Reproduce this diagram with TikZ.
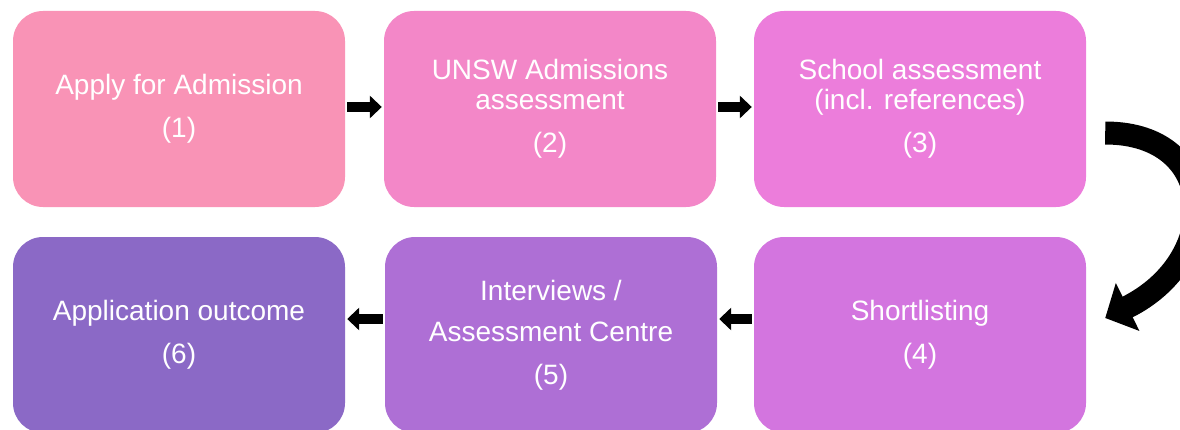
\documentclass[tikz,border=0pt]{standalone}
\usepackage{fontspec}
\setmainfont{Liberation Sans}
\usetikzlibrary{arrows.meta}
\definecolor{etapeA}{RGB}{249,147,182}
\definecolor{etapeB}{RGB}{243,135,200}
\definecolor{etapeC}{RGB}{236,125,219}
\definecolor{etapeD}{RGB}{211,117,223}
\definecolor{etapeE}{RGB}{174,111,213}
\definecolor{etapeF}{RGB}{139,105,198}
\tikzset{
  etape/.style={rounded corners=30pt,minimum width=332pt,minimum height=196pt,
    inner sep=0pt,align=center,text=white,font=\fontsize{28}{30}\selectfont},
  fleche/.style={line width=9.5pt,-{Triangle[length=12pt,width=22pt]},
    shorten <=2pt,shorten >=2pt},
  grossefleche/.style={line width=23pt,-{Triangle[length=25pt,width=52pt]}}
}

\begin{document}
\begin{tikzpicture}[x=1pt,y=1pt]
    \useasboundingbox (0,0) rectangle (1180,429);
    % premiere ligne
    \node[etape,fill=etapeA] (b1) at (179,320) {Apply for Admission\\[13pt](1)};
    \node[etape,fill=etapeB] (b2) at (550,320) {UNSW Admissions\\assessment\\[13pt](2)};
    \node[etape,fill=etapeC] (b3) at (920,320) {School assessment\\(incl. references)\\[13pt](3)};
    % deuxieme ligne
    \node[etape,fill=etapeD] (b4) at (920,94) {Shortlisting\\[13pt](4)};
    \node[etape,fill=etapeE] (b5) at (551,94) {Interviews /\\[11pt]Assessment Centre\\[13pt](5)};
    \node[etape,fill=etapeF] (b6) at (179,94) {Application outcome\\[13pt](6)};
    \draw[fleche] ([yshift=2pt]b1.east) -- ([yshift=2pt]b2.west);
    \draw[fleche] ([yshift=2pt]b2.east) -- ([yshift=2pt]b3.west);
    \draw[fleche] ([yshift=16pt]b4.west) -- ([yshift=16pt]b5.east);
    \draw[fleche] ([yshift=16pt]b5.west) -- ([yshift=16pt]b6.east);
    \coordinate (haut) at ([xshift=19pt,yshift=-24pt]b3.east);
    \coordinate (bas) at ([xshift=19pt,yshift=17pt]b4.east);
    \draw[grossefleche] (haut) .. controls +(115,0) and +(118,58) .. (bas);
\end{tikzpicture}
\end{document}
